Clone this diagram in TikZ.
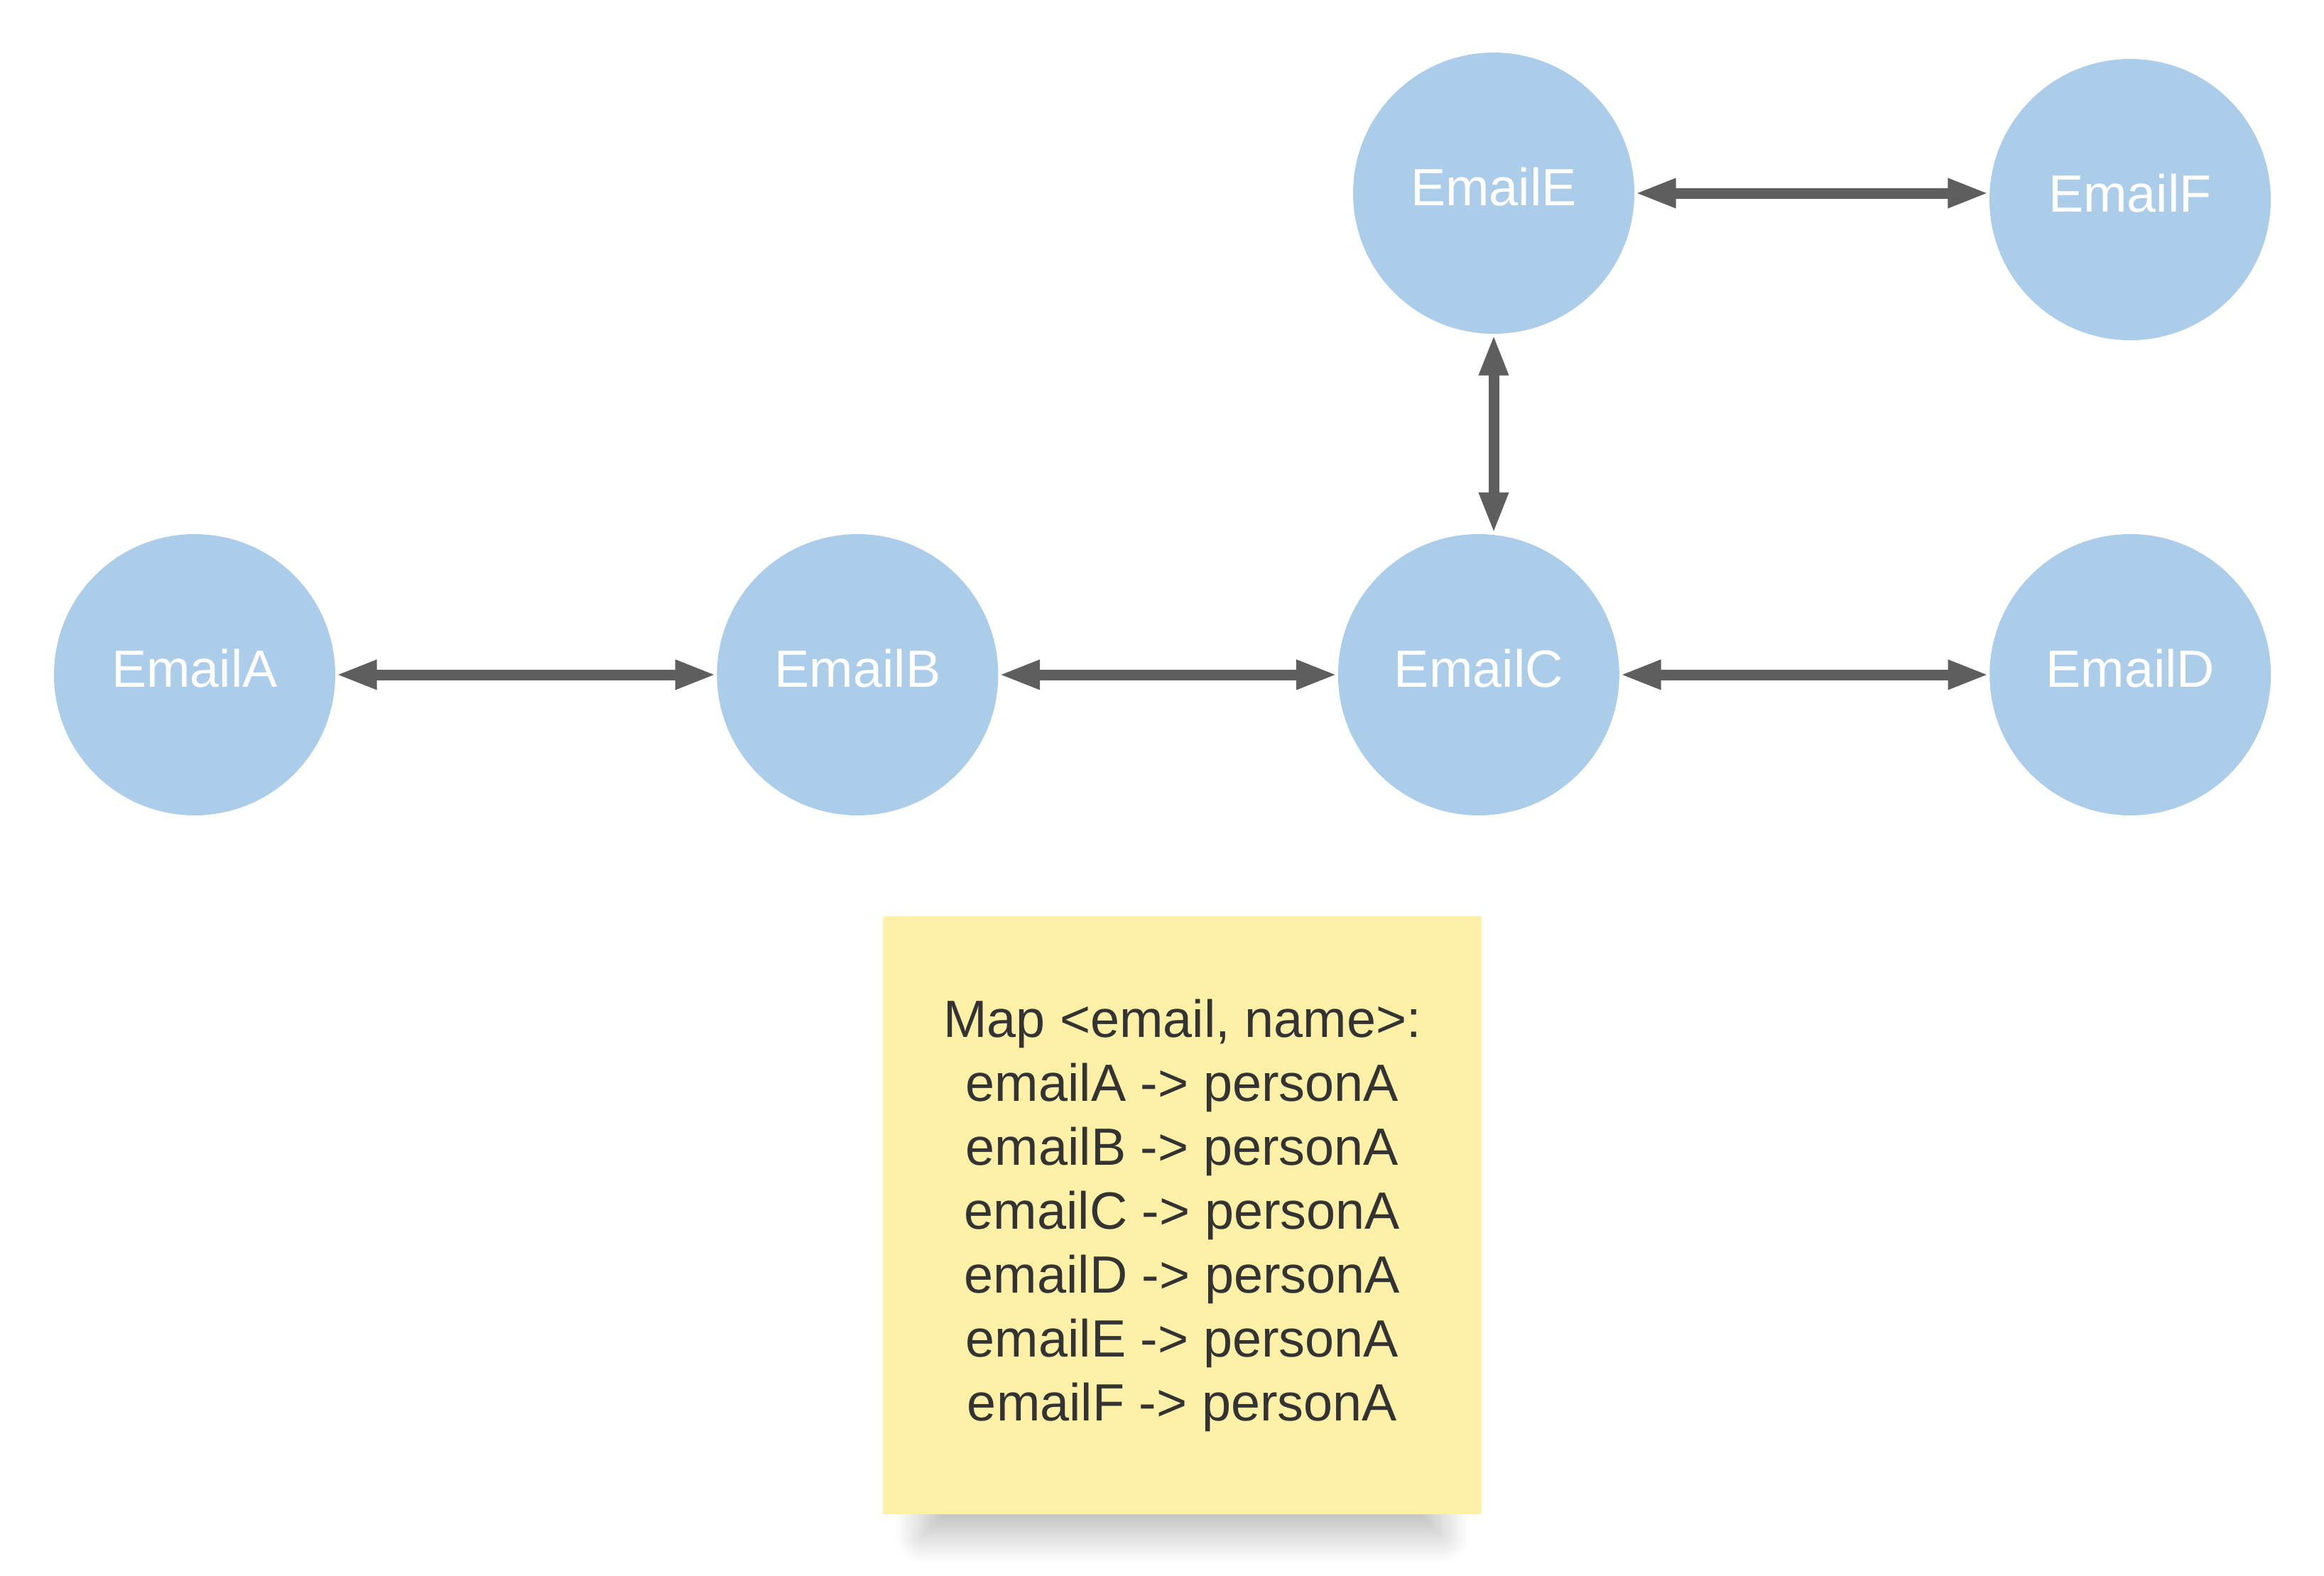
\documentclass[tikz,border=0pt]{standalone}
\usepackage{fontspec}
\setmainfont{Liberation Sans}
\usetikzlibrary{positioning, arrows.meta, shadows.blur}
\definecolor{nodeblue}{RGB}{171,205,233}
\definecolor{noteyellow}{RGB}{255,240,168}
\definecolor{edgegray}{RGB}{94,94,94}
\definecolor{notetext}{RGB}{51,51,51}
\tikzset{%
  email/.style={circle, fill=nodeblue, minimum size=3.96cm, inner sep=0pt,
    text=white, text depth=0.18cm, font=\fontsize{21}{25}\selectfont},
  link/.style={draw=edgegray, line width=0.15cm,
    {Triangle[length=0.58cm,width=0.38cm]}-{Triangle[length=0.58cm,width=0.38cm]}},
  note/.style={rectangle, fill=noteyellow, minimum width=8.43cm, minimum height=8.42cm,
    text=notetext, align=center, font=\fontsize{21}{25.6}\selectfont,
    blur shadow={shadow xshift=0cm, shadow yshift=-1.0cm, shadow scale=0.866,
      shadow blur radius=0.45cm, shadow blur steps=30, shadow opacity=26}}
}

\begin{document}
\begin{tikzpicture}
\useasboundingbox (0,0) rectangle (32.72,-22.19);

\node[email] (a) at (2.74,-9.50) {EmailA};
\node[email, right=5.36cm of a] (b) {EmailB};
\node[email, right=4.77cm of b] (c) {EmailC};
\node[email, right=5.20cm of c] (d) {EmailD};
\node[email] (e) at (21.03,-2.72) {EmailE};
\node[email] (f) at (29.99,-2.81) {EmailF};

\draw[link] (a) -- (b);
\draw[link] (b) -- (c);
\draw[link] (c) -- (d);
\draw[link] (e.east) -- (e.east -| f.west);
\draw[link] (e.south) -- (e.south |- c.north);

% the mapping sticky note
\node[note] (map) at (16.645,-17.11) {Map <email, name>:\\
emailA -> personA\\
emailB -> personA\\
emailC -> personA\\
emailD -> personA\\
emailE -> personA\\
emailF -> personA};
\end{tikzpicture}
\end{document}
